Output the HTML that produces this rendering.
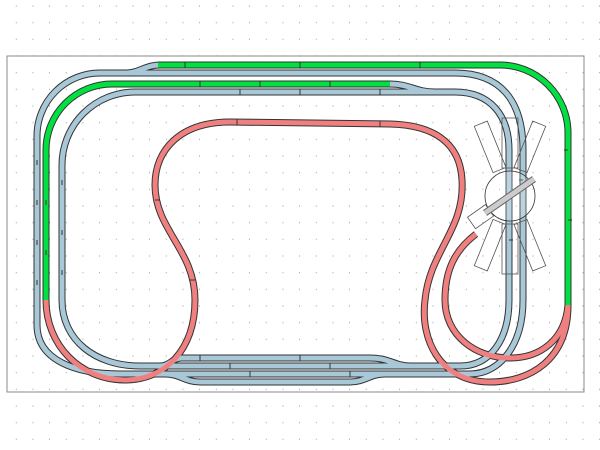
<!DOCTYPE html>
<html><head><meta charset="utf-8"><style>html,body{margin:0;padding:0;background:#fff}svg{display:block}</style></head>
<body>
<svg width="600" height="450" viewBox="0 0 600 450" xmlns="http://www.w3.org/2000/svg">
<defs>
<pattern id="g" width="16.667" height="16.667" patternUnits="userSpaceOnUse" x="0" y="0">
<circle cx="16.667" cy="6" r="0.8" fill="#999"/>
</pattern>
<path id="bo" d="M100,73 A63,63 0 0 0 37,136 L37,325 C37,360 75,374 120,374 L470,374 C500,374 523,345 523,300 L523,150 C523,100 500,73 455,73 L100,73 Z"/>
<path id="bi" d="M135,92 A73,73 0 0 0 62,165 L62,300 C62,340 95,366 140,366 L460,366 C490,366 509,340 509,300 L509,150 C509,115 490,92 455,92 L135,92 Z"/>
<path id="b3" d="M160,366 C170,366 172,358 182,358 L370,358 C390,358 395,366 410,366"/>
<path id="b4" d="M165,374 C180,374 185,382 200,382 L350,382 C365,382 370,374 385,374"/>
<path id="gt" d="M158,65 L500,65 A68,68 0 0 1 568,133 L568,305"/>
<path id="gl" d="M46,300 L46,150 A66,66 0 0 1 112,84 L390,84"/>
<path id="r1" d="M568,305 C568,360 530,382 490,382 C440,382 420,340 425,300 C430,250 465,230 462,180 C460,140 430,125 390,124 L230,122 C180,122 155,150 155,185 C155,230 195,250 195,300 C195,350 165,380 125,380 C80,380 46,345 46,300"/>
<path id="r2" d="M476,234 C455,250 445,270 445,300 C445,335 475,358 510,358 C540,358 565,340 568,305"/>
<path id="sw" d="M125,73 C140,73 145,65 160,65"/>
</defs>
<rect width="600" height="450" fill="#fff"/>
<rect width="600" height="450" fill="url(#g)"/>
<rect x="7" y="56" width="577" height="336" fill="#fff" stroke="#888" stroke-width="1"/>
<rect x="7" y="56" width="577" height="336" fill="url(#g)"/>
<g fill="none" stroke="#333" stroke-width="7">
<use href="#bo"/><use href="#bi"/><use href="#b3"/><use href="#b4"/><use href="#gt"/><use href="#gl"/><use href="#r1"/><use href="#r2"/><use href="#sw"/>
<path d="M390,84 C410,84 415,92 435,92"/>
</g>
<g fill="none" stroke-width="5">
<use href="#bo" stroke="#a8c8d8"/><use href="#bi" stroke="#a8c8d8"/><use href="#b3" stroke="#a8c8d8"/><use href="#b4" stroke="#a8c8d8"/>
<path d="M390,84 C410,84 415,92 435,92" stroke="#a8c8d8"/>
<use href="#sw" stroke="#a8c8d8"/>
<use href="#r1" stroke="#f08080"/><use href="#r2" stroke="#f08080"/>
<use href="#gt" stroke="#00e040"/><use href="#gl" stroke="#00e040"/>
</g>
<g stroke="#333" stroke-width="1">
<path d="M37,160v5M37,200v5M37,240v5M37,280v5M62,180v5M62,230v5M62,270v5M46,200v5M46,250v5M185,62v6M300,62v6M420,62v6M200,81v6M260,81v6M330,81v6M240,89v6M300,89v6M380,89v6M200,355v6M300,355v6M230,363v6M330,363v6M250,371v6M350,371v6M568,150h-4M568,220h4M523,180h-4M509,240h4M237,119v6M380,121v6M155,200h5M195,280h-5"/>
</g>
<g transform="translate(510,196)" fill="none" stroke="#555" stroke-width="0.8">
<rect x="28" y="-7" width="50" height="14" transform="rotate(-112)"/>
<rect x="28" y="-8" width="50" height="16" transform="rotate(-90)"/>
<rect x="28" y="-7" width="50" height="14" transform="rotate(-68)"/>
<rect x="28" y="-7" width="50" height="14" transform="rotate(68)"/>
<rect x="28" y="-8" width="50" height="16" transform="rotate(90)"/>
<rect x="28" y="-7" width="50" height="14" transform="rotate(112)"/>
<rect x="25" y="-7" width="22" height="14" transform="rotate(145)"/>
<circle cx="0" cy="0" r="25" fill="rgba(255,255,255,0.2)" stroke="#333"/>
<line x1="-25" y1="17" x2="24" y2="-17" stroke="#666" stroke-width="7"/>
<line x1="-25" y1="17" x2="24" y2="-17" stroke="#ccc" stroke-width="5"/>
</g>
</svg>
</body></html>
